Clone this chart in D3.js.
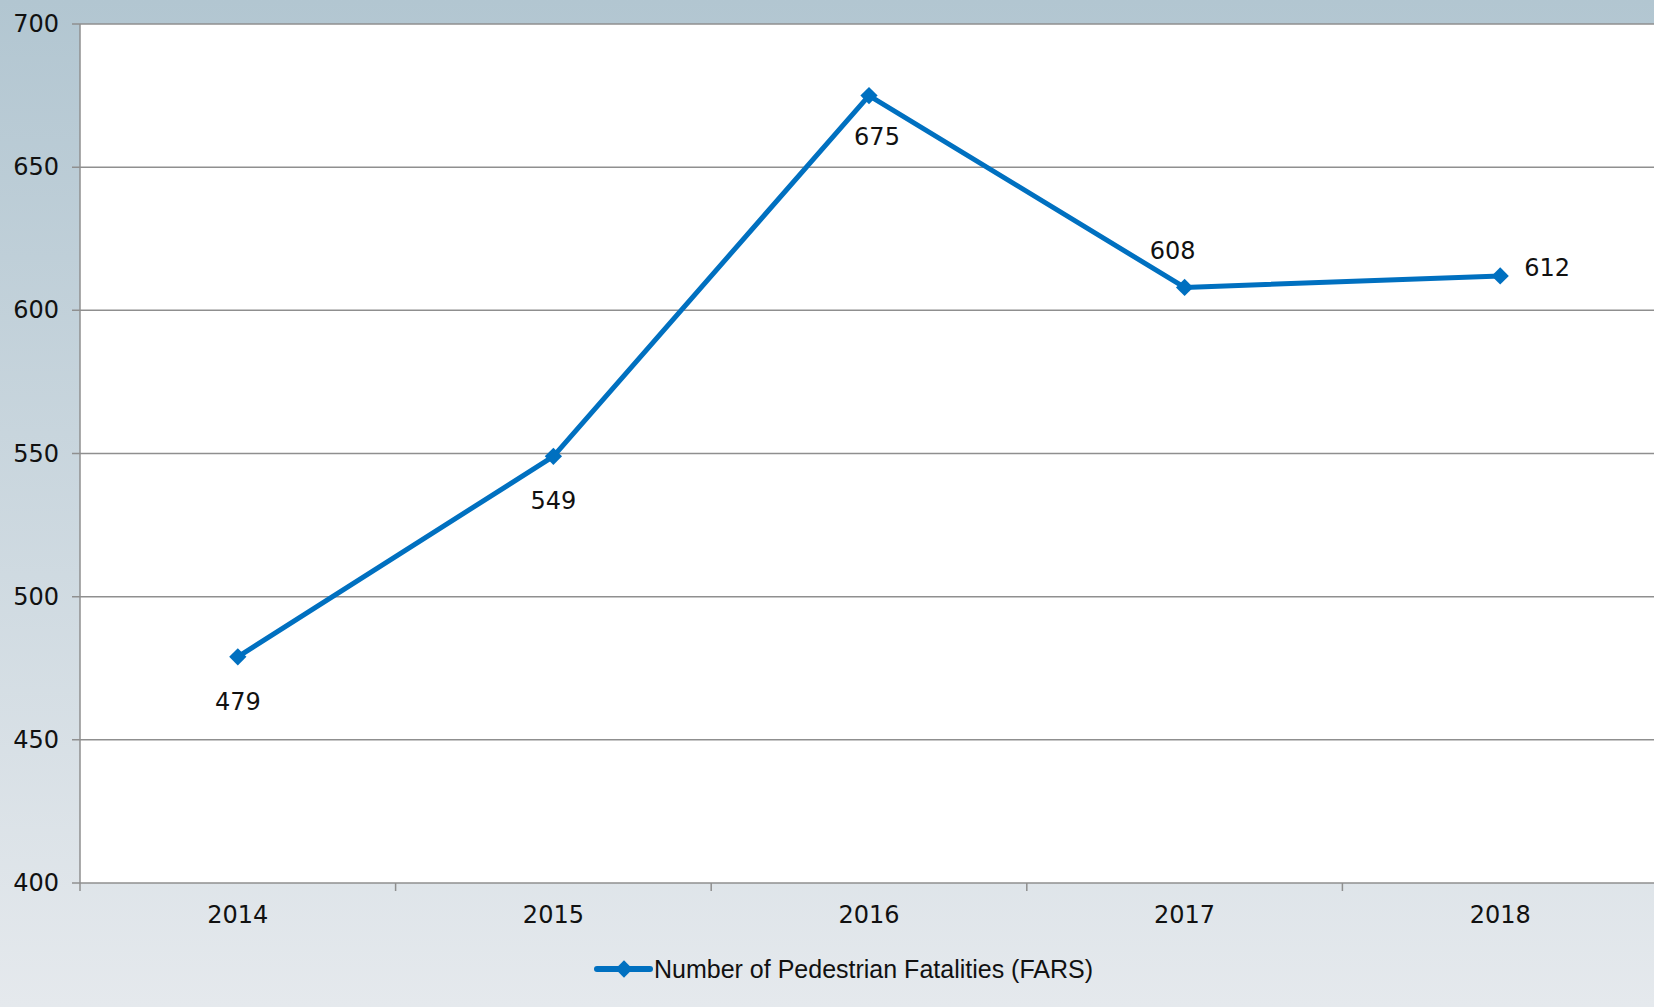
<!DOCTYPE html>
<html>
<head>
<meta charset="utf-8">
<script src="https://cdn.jsdelivr.net/npm/d3@7"></script>
<style>
  html, body { margin: 0; padding: 0; overflow: hidden; }
  svg { display: block; font-family: "Liberation Sans", Arial, sans-serif; }
  .num { font-family: "DejaVu Sans", sans-serif; font-size: 24px; fill: #111; }
</style>
</head>
<body>
<svg id="chart"></svg>
<script>
// Chart data
const years = ["2014", "2015", "2016", "2017", "2018"];
const fatalities = [479, 549, 675, 608, 612];
const yTicks = [400, 450, 500, 550, 600, 650, 700];
const seriesName = "Number of Pedestrian Fatalities (FARS)";
// label placement relative to point: [dx, dy]
const labelOffsets = [[0, 53], [0, 53], [8, 49], [-12, -28], [47, 0]];

const width = 1654, height = 1007;
const margin = { top: 24, left: 80, bottom: 124 };
const plotRight = 1658;

const svg = d3.select("#chart")
  .attr("width", width)
  .attr("height", height);

// Background gradient
const defs = svg.append("defs");
const grad = defs.append("linearGradient")
  .attr("id", "bg")
  .attr("x1", 0).attr("y1", 0).attr("x2", 0).attr("y2", 1);
grad.append("stop").attr("offset", "0%").attr("stop-color", "#b2c6d1");
grad.append("stop").attr("offset", "100%").attr("stop-color", "#e5e9ed");

svg.append("rect")
  .attr("width", width).attr("height", height)
  .attr("fill", "url(#bg)");

const x = d3.scaleBand()
  .domain(years)
  .range([margin.left, plotRight]);

const y = d3.scaleLinear()
  .domain([400, 700])
  .range([height - margin.bottom, margin.top]);

// Plot area
svg.append("rect")
  .attr("x", margin.left)
  .attr("y", margin.top)
  .attr("width", plotRight - margin.left)
  .attr("height", y(400) - margin.top)
  .attr("fill", "#fff");

// Gridlines
svg.append("g")
  .selectAll("line")
  .data(yTicks)
  .enter()
  .append("line")
  .attr("x1", margin.left - 8)
  .attr("x2", plotRight)
  .attr("y1", d => y(d))
  .attr("y2", d => y(d))
  .attr("stroke", "#8f8f8f")
  .attr("stroke-width", 1.5);

// Y axis line
svg.append("line")
  .attr("x1", margin.left).attr("x2", margin.left)
  .attr("y1", margin.top).attr("y2", y(400) + 8)
  .attr("stroke", "#8f8f8f")
  .attr("stroke-width", 1.5);

// Y tick labels
svg.append("g")
  .selectAll("text")
  .data(yTicks)
  .enter()
  .append("text")
  .attr("class", "num")
  .attr("x", 59)
  .attr("y", d => y(d))
  .attr("text-anchor", "end")
  .attr("dominant-baseline", "central")
  .text(d => d);

// X ticks at band boundaries
svg.append("g")
  .selectAll("line")
  .data(years.slice(1))
  .enter()
  .append("line")
  .attr("x1", d => x(d)).attr("x2", d => x(d))
  .attr("y1", y(400)).attr("y2", y(400) + 8)
  .attr("stroke", "#8f8f8f")
  .attr("stroke-width", 1.5);

// X labels
svg.append("g")
  .selectAll("text")
  .data(years)
  .enter()
  .append("text")
  .attr("class", "num")
  .attr("x", d => x(d) + x.bandwidth() / 2)
  .attr("y", y(400) + 40)
  .attr("text-anchor", "middle")
  .text(d => d);

const cx = (d, i) => x(years[i]) + x.bandwidth() / 2;
const blue = "#0070c0";

// Series line
const line = d3.line()
  .x((d, i) => cx(d, i))
  .y(d => y(d));

svg.append("path")
  .datum(fatalities)
  .attr("d", line)
  .attr("fill", "none")
  .attr("stroke", blue)
  .attr("stroke-width", 5)
  .attr("stroke-linejoin", "round");

// Diamond markers
const diamond = d3.symbol().type(d3.symbolDiamond2).size(190);
svg.append("g")
  .selectAll("path")
  .data(fatalities)
  .enter()
  .append("path")
  .attr("d", diamond)
  .attr("transform", (d, i) => `translate(${cx(d, i)},${y(d)})`)
  .attr("fill", blue);

// Data labels
svg.append("g")
  .selectAll("text")
  .data(fatalities)
  .enter()
  .append("text")
  .attr("class", "num")
  .attr("x", (d, i) => cx(d, i) + labelOffsets[i][0])
  .attr("y", (d, i) => y(d) + labelOffsets[i][1])
  .attr("text-anchor", "middle")
  .text(d => d);

// Legend
const legend = svg.append("g").attr("transform", "translate(597,969)");
legend.append("line")
  .attr("x1", 0).attr("x2", 53)
  .attr("stroke", blue)
  .attr("stroke-width", 6)
  .attr("stroke-linecap", "round");
legend.append("path")
  .attr("d", diamond)
  .attr("transform", "translate(27,0)")
  .attr("fill", blue);
legend.append("text")
  .attr("x", 57)
  .attr("y", 0)
  .attr("dominant-baseline", "central")
  .style("font-size", "25px")
  .attr("fill", "#111")
  .text(seriesName);
</script>
</body>
</html>
